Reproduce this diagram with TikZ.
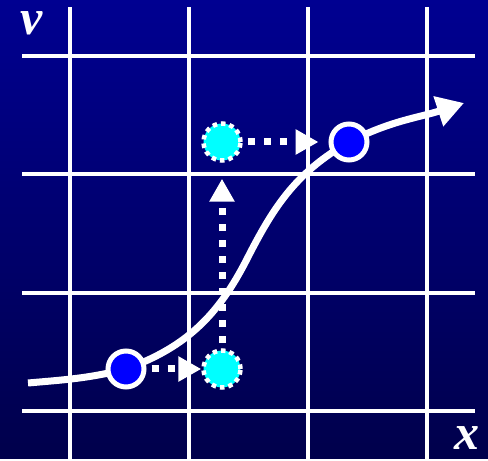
\documentclass[tikz,border=0pt]{standalone}
\usepackage{fontspec}
\setmainfont{Liberation Serif}
\usetikzlibrary{arrows.meta}
\definecolor{bgtop}{HTML}{000091}
\definecolor{bgbottom}{HTML}{00004B}
\definecolor{dotblue}{HTML}{0000FF}
\definecolor{dotcyan}{HTML}{00FFFF}

\tikzset{
  state/.style={circle,fill=dotblue,draw=white,line width=5pt,minimum size=36pt,inner sep=0pt},
  ghost/.style={circle,fill=dotcyan,draw=white,line width=4.5pt,minimum size=37pt,inner sep=0pt,dash pattern=on 4.5pt off 4pt},
  jump/.style={draw=white,line width=7pt,dash pattern=on 7pt off 9pt,dash phase=11pt,->},
  axislabel/.style={text=white,font=\fontsize{50}{50}\selectfont\bfseries\itshape,inner sep=0pt},
}

\begin{document}
\begin{tikzpicture}[x=1pt,y=1pt,>={Triangle[length=23pt,width=24pt]}]
  \shade[top color=bgtop,bottom color=bgbottom] (0,0) rectangle (488,459);
  \foreach \x in {70,189,308,427} {
    \draw[white,line width=4pt] (\x,0) -- (\x,452);
  }
  \foreach \y in {48,166,285,403} {
    \draw[white,line width=4pt] (22,\y) -- (475,\y);
  }
  \node[axislabel] (vlab) at (32,436) {v};
  \node[axislabel] (xlab) at (467,21) {x};
  \coordinate (start) at (28,76);
  \coordinate (p1) at (126,90);
  \coordinate (bend) at (247,200);
  \coordinate (p2) at (349,317);
  \coordinate (curveend) at (464,356);
  \draw[white,line width=7pt,-{Triangle[length=27pt,width=30pt]}] (start) to[out=5,in=194] (p1)
    to[out=20,in=243] (bend) to[out=63,in=210] (p2) to[out=27,in=198] (curveend);
  \node[state] (b1) at (p1) {};
  \node[ghost] (c1) at (222,90) {};
  \node[ghost] (c2) at (222,317) {};
  \node[state] (b2) at (p2) {};
  \draw[jump] (b1) -- (c1);
  \draw[jump,shorten >=16pt] (c1) -- (c2);
  \draw[jump,shorten >=10pt] (c2) -- (b2);
\end{tikzpicture}
\end{document}
